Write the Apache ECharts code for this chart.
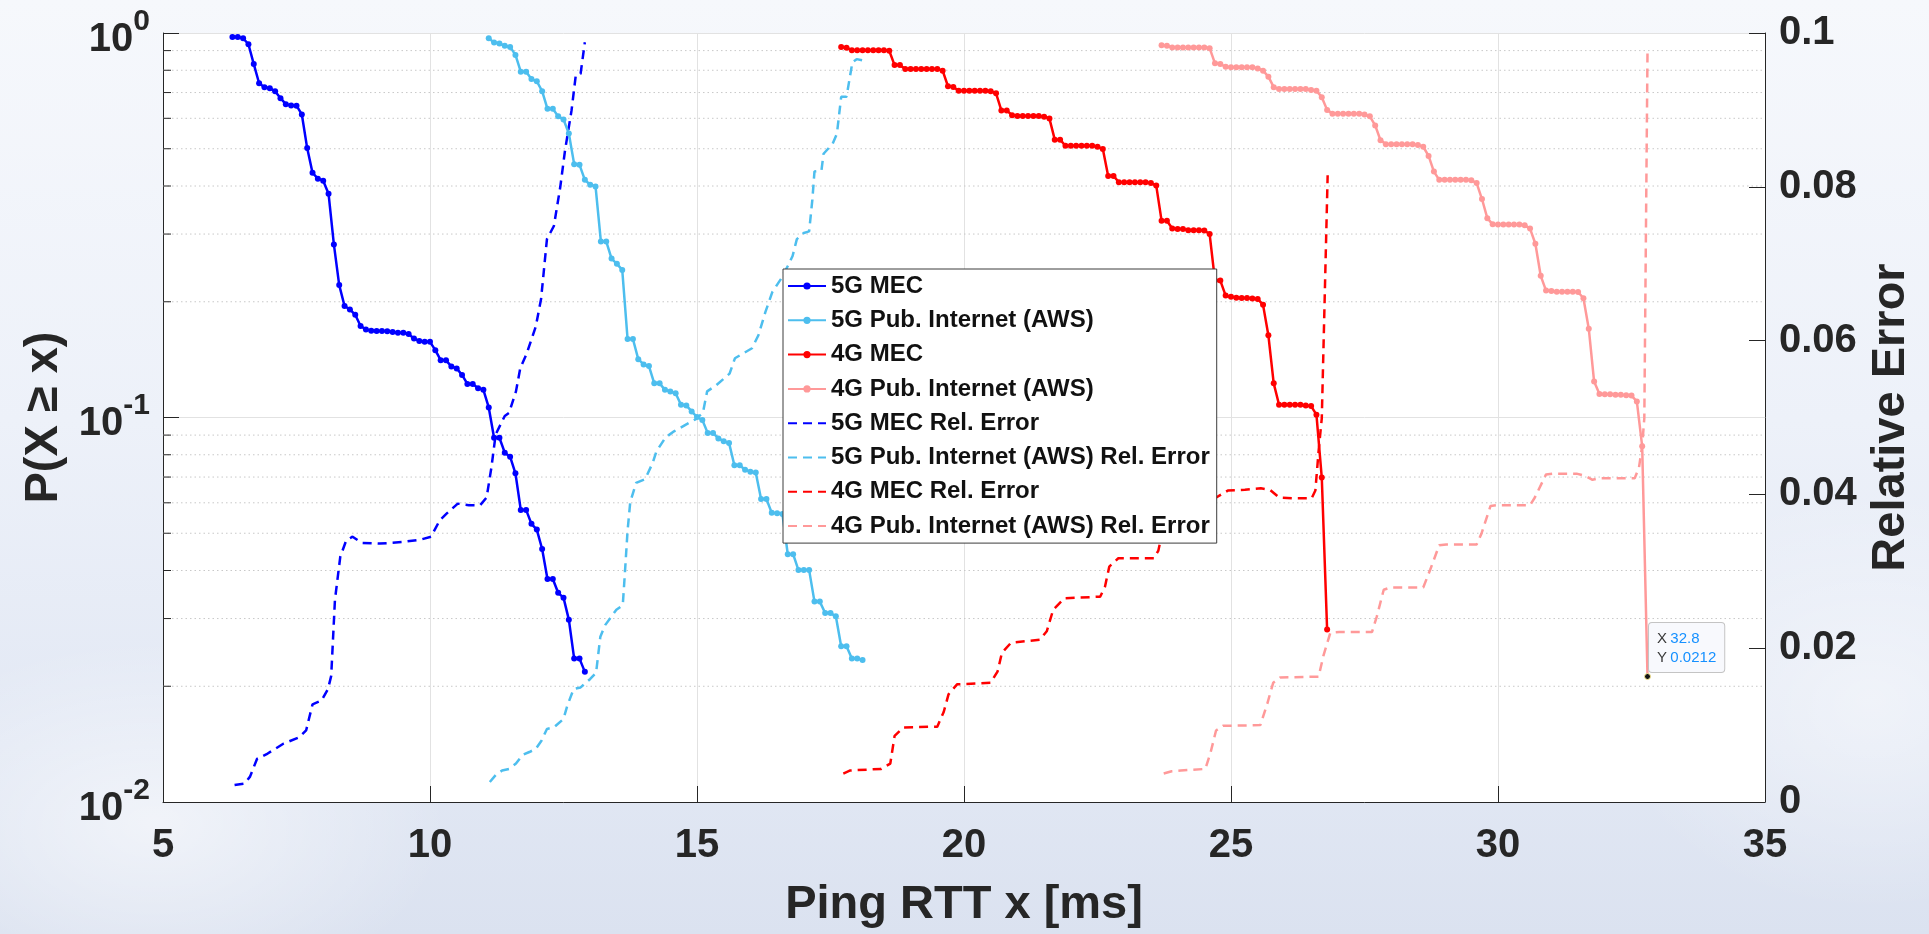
<!DOCTYPE html>
<html>
<head>
<meta charset="utf-8">
<script src="https://cdn.jsdelivr.net/npm/echarts@6.0.0/dist/echarts.min.js"></script>
<style>
html,body{margin:0;padding:0;width:1929px;height:934px;overflow:hidden;}
body{
  background:
    radial-gradient(ellipse 420px 260px at 8% 88%, rgba(255,255,255,0.55), rgba(255,255,255,0) 70%),
    radial-gradient(ellipse 380px 300px at 97% 75%, rgba(255,255,255,0.45), rgba(255,255,255,0) 70%),
    linear-gradient(180deg, #f6f8fc 0%, #edf1f9 45%, #e2e8f4 80%, #dbe2f0 100%);
}
#chart{width:1929px;height:934px;}
</style>
</head>
<body>
<div id="chart"></div>
<script>
// ---------------- data ----------------
const seriesNames = [
  '5G MEC', '5G Pub. Internet (AWS)', '4G MEC', '4G Pub. Internet (AWS)',
  '5G MEC Rel. Error', '5G Pub. Internet (AWS) Rel. Error', '4G MEC Rel. Error', '4G Pub. Internet (AWS) Rel. Error'
];

// 5G MEC CCDF
const mec5gX = [6.3,6.4,6.5,6.6,6.7,6.8,6.9,7.0,7.1,7.2,7.3,7.4,7.5,7.6,7.7,7.8,7.9,8.0,8.1,8.2,
  8.3,8.4,8.5,8.6,8.7,8.8,8.9,9.0,9.1,9.2,9.3,9.4,9.5,9.6,9.7,9.8,9.9,10.0,10.1,10.2,
  10.3,10.4,10.5,10.6,10.7,10.8,10.9,11.0,11.1,11.2,11.3,11.4,11.5,11.6,11.7,11.8,11.9,12.0,12.1,12.2,
  12.3,12.4,12.5,12.6,12.7,12.8,12.9];
const mec5gP = [0.976,0.976,0.969,0.935,0.830,0.740,0.723,0.718,0.706,0.677,
  0.653,0.648,0.647,0.614,0.502,0.433,0.418,0.413,0.382,0.282,
  0.221,0.195,0.191,0.185,0.173,0.1695,0.168,0.1678,0.1678,0.1675,
  0.1669,0.1662,0.1662,0.1649,0.1604,0.1582,0.1573,0.1573,0.1497,0.1410,
  0.1408,0.1358,0.1342,0.1290,0.1223,0.1223,0.1192,0.1180,0.1062,0.0886,
  0.0886,0.0810,0.0791,0.0716,0.0575,0.0575,0.0529,0.0511,0.0455,0.0380,
  0.0380,0.0350,0.0340,0.0298,0.0236,0.0236,0.0218];

// 5G Pub. Internet (AWS) CCDF
const pub5gX = [11.1,11.2,11.3,11.4,11.5,11.6,11.7,11.8,11.9,12.0,12.1,12.2,12.3,12.4,12.5,12.6,12.7,12.8,12.9,13.0,
  13.1,13.2,13.3,13.4,13.5,13.6,13.7,13.8,13.9,14.0,14.1,14.2,14.3,14.4,14.5,14.6,14.7,14.8,14.9,15.0,
  15.1,15.2,15.3,15.4,15.5,15.6,15.7,15.8,15.9,16.0,16.1,16.2,16.3,16.4,16.5,16.6,16.7,16.8,16.9,17.0,
  17.1,17.2,17.3,17.4,17.5,17.6,17.7,17.8,17.9,18.0,18.1];
const pub5gP = [0.969,0.944,0.939,0.926,0.920,0.877,0.793,0.793,0.759,0.749,
  0.706,0.635,0.635,0.607,0.596,0.548,0.456,0.454,0.415,0.403,
  0.399,0.287,0.287,0.259,0.251,0.242,0.160,0.160,0.1418,0.1374,
  0.1361,0.1227,0.1227,0.1180,0.1168,0.1156,0.1079,0.1075,0.1037,0.1003,
  0.0985,0.0912,0.0912,0.0882,0.0868,0.0859,0.0751,0.0751,0.0731,0.0723,
  0.0719,0.0614,0.0614,0.0565,0.0564,0.0561,0.0441,0.0441,0.0401,0.0401,
  0.0401,0.0332,0.0332,0.0310,0.0310,0.0304,0.0254,0.0254,0.0236,0.0236,
  0.0234];

// 4G MEC CCDF
const mec4gX = [17.7,17.8,17.9,18.0,18.1,18.2,18.3,18.4,18.5,18.6,18.7,18.8,18.9,19.0,19.1,19.2,19.3,19.4,19.5,19.6,
  19.7,19.8,19.9,20.0,20.1,20.2,20.3,20.4,20.5,20.6,20.7,20.8,20.9,21.0,21.1,21.2,21.3,21.4,21.5,21.6,
  21.7,21.8,21.9,22.0,22.1,22.2,22.3,22.4,22.5,22.6,22.7,22.8,22.9,23.0,23.1,23.2,23.3,23.4,23.5,23.6,
  23.7,23.8,23.9,24.0,24.1,24.2,24.3,24.4,24.5,24.6,24.7,24.8,24.9,25.0,25.1,25.2,25.3,25.4,25.5,25.6,
  25.7,25.8,25.9,26.0,26.1,26.2,26.3,26.4,26.5,26.6,26.7,26.8];
const mec4gP = [0.920,0.916,0.902,0.902,0.902,0.902,0.902,0.902,0.902,0.899,
  0.825,0.825,0.806,0.806,0.806,0.806,0.806,0.806,0.806,0.798,
  0.727,0.724,0.708,0.708,0.708,0.708,0.708,0.708,0.706,0.697,
  0.629,0.629,0.611,0.608,0.608,0.608,0.608,0.608,0.606,0.599,
  0.528,0.528,0.509,0.509,0.509,0.509,0.509,0.509,0.506,0.499,
  0.425,0.425,0.409,0.409,0.409,0.409,0.409,0.409,0.407,0.401,
  0.325,0.325,0.310,0.309,0.309,0.307,0.307,0.307,0.3065,0.300,
  0.227,0.227,0.2075,0.206,0.205,0.2046,0.2046,0.204,0.2034,0.1963,
  0.1636,0.1227,0.1079,0.1079,0.1079,0.1079,0.1079,0.1075,0.1071,0.1017,
  0.0698,0.0281];

// 4G Pub. Internet (AWS) CCDF
const pub4gX = [23.7,23.8,23.9,24.0,24.1,24.2,24.3,24.4,24.5,24.6,24.7,24.8,24.9,25.0,25.1,25.2,25.3,25.4,25.5,25.6,
  25.7,25.8,25.9,26.0,26.1,26.2,26.3,26.4,26.5,26.6,26.7,26.8,26.9,27.0,27.1,27.2,27.3,27.4,27.5,27.6,
  27.7,27.8,27.9,28.0,28.1,28.2,28.3,28.4,28.5,28.6,28.7,28.8,28.9,29.0,29.1,29.2,29.3,29.4,29.5,29.6,
  29.7,29.8,29.9,30.0,30.1,30.2,30.3,30.4,30.5,30.6,30.7,30.8,30.9,31.0,31.1,31.2,31.3,31.4,31.5,31.6,
  31.7,31.8,31.9,32.0,32.1,32.2,32.3,32.4,32.5,32.6,32.7,32.8];
const pub4gP = [0.929,0.926,0.917,0.917,0.917,0.917,0.917,0.917,0.917,0.913,
  0.834,0.830,0.817,0.814,0.814,0.814,0.814,0.814,0.809,0.798,
  0.770,0.723,0.715,0.715,0.715,0.715,0.715,0.715,0.711,0.708,
  0.681,0.631,0.617,0.617,0.617,0.617,0.617,0.617,0.614,0.607,
  0.575,0.526,0.514,0.514,0.514,0.514,0.514,0.514,0.511,0.506,
  0.479,0.436,0.415,0.415,0.415,0.415,0.415,0.415,0.414,0.407,
  0.370,0.330,0.318,0.3175,0.3175,0.3175,0.3175,0.3175,0.316,0.310,
  0.283,0.2336,0.2138,0.2134,0.2125,0.2125,0.2125,0.2125,0.212,0.2042,
  0.1702,0.1240,0.1151,0.1149,0.1149,0.1146,0.1146,0.1142,0.1140,0.1101,
  0.0842,0.0212];

// Relative errors (right axis): [x, error]
const err5gMec = [[6.34,0.0022],[6.53,0.0024],[6.63,0.0033],[6.76,0.0056],[6.96,0.0063],[7.26,0.0076],[7.55,0.0084],
  [7.68,0.0093],[7.80,0.0127],[7.97,0.0132],[8.09,0.0147],[8.15,0.0164],[8.22,0.0263],[8.32,0.0319],[8.43,0.0340],
  [8.55,0.0345],[8.72,0.0337],[9.06,0.0336],[9.47,0.0338],[9.81,0.0341],[10.02,0.0345],[10.18,0.0366],[10.31,0.0375],
  [10.52,0.0388],[10.73,0.0386],[10.94,0.0386],[11.06,0.0396],[11.15,0.0435],[11.23,0.0478],[11.40,0.0502],[11.48,0.0506],
  [11.61,0.0534],[11.69,0.0564],[11.81,0.0583],[11.98,0.0618],[12.08,0.0654],[12.19,0.0732],[12.32,0.0749],[12.44,0.0800],
  [12.53,0.0848],[12.65,0.0899],[12.73,0.0945],[12.82,0.0947],[12.90,0.0988]];
const err5gPub = [[11.12,0.0026],[11.23,0.0035],[11.35,0.0041],[11.48,0.0043],[11.61,0.0050],[11.73,0.0061],[11.86,0.0065],
  [11.98,0.0069],[12.09,0.0080],[12.19,0.0095],[12.32,0.0097],[12.50,0.0108],[12.57,0.0125],[12.69,0.0147],[12.82,0.0149],
  [13.00,0.0160],[13.11,0.0168],[13.19,0.0215],[13.28,0.0230],[13.49,0.0250],[13.61,0.0256],[13.65,0.0298],[13.70,0.0353],
  [13.75,0.0390],[13.86,0.0415],[14.03,0.0420],[14.17,0.0441],[14.24,0.0456],[14.41,0.0474],[14.57,0.0482],[14.80,0.0491],
  [14.98,0.0498],[15.11,0.0506],[15.19,0.0534],[15.36,0.0542],[15.61,0.0557],[15.71,0.0577],[16.03,0.0590],[16.15,0.0607],
  [16.28,0.0637],[16.41,0.0663],[16.57,0.0680],[16.70,0.0697],[16.79,0.0710],[16.87,0.0732],[17.00,0.0740],[17.10,0.0742],
  [17.16,0.0783],[17.20,0.0820],[17.33,0.0821],[17.37,0.0843],[17.54,0.0856],[17.62,0.0869],[17.70,0.0917],[17.80,0.0917],
  [17.91,0.0962],[17.99,0.0966],[18.12,0.0964]];
const err4gMec = [[17.74,0.0037],[17.87,0.0041],[18.45,0.0043],[18.62,0.0050],[18.70,0.0086],[18.87,0.0097],[19.50,0.0098],
  [19.62,0.0117],[19.71,0.0140],[19.87,0.0153],[20.50,0.0155],[20.63,0.0170],[20.71,0.0194],[20.88,0.0207],[21.42,0.0211],
  [21.55,0.0222],[21.67,0.0250],[21.88,0.0265],[22.55,0.0267],[22.64,0.0280],[22.72,0.0306],[22.89,0.0317],[23.56,0.0317],
  [23.64,0.0327],[23.72,0.0353],[23.89,0.0362],[24.48,0.0366],[24.58,0.0375],[24.70,0.0395],[24.94,0.0405],[25.26,0.0406],
  [25.56,0.0408],[25.73,0.0406],[25.90,0.0396],[26.16,0.0395],[26.51,0.0395],[26.58,0.0405],[26.64,0.0456],[26.70,0.0499],
  [26.81,0.0815]];
const err4gPub = [[23.74,0.0037],[23.89,0.0040],[24.06,0.0041],[24.52,0.0043],[24.62,0.0065],[24.72,0.0093],[24.85,0.0099],
  [25.55,0.0100],[25.68,0.0128],[25.79,0.0155],[25.92,0.0162],[26.64,0.0163],[26.73,0.0190],[26.86,0.0220],[27.03,0.0221],
  [27.64,0.0221],[27.73,0.0241],[27.86,0.0276],[27.99,0.0279],[28.60,0.0279],[28.73,0.0302],[28.90,0.0334],[29.03,0.0335],
  [29.60,0.0335],[29.69,0.0349],[29.86,0.0385],[29.99,0.0386],[30.60,0.0386],[30.69,0.0396],[30.90,0.0426],[31.03,0.0427],
  [31.47,0.0427],[31.64,0.0424],[31.77,0.0419],[31.90,0.0421],[32.56,0.0421],[32.64,0.0435],[32.70,0.0463],[32.74,0.0499],
  [32.80,0.0978]];

// Axes
const xMin = 5, xMax = 35, xStep = 5;
const pMin = 0.01, pMax = 1;
const errMin = 0, errMax = 0.1, errStep = 0.02;
const minorTicks = [0.02,0.03,0.04,0.05,0.06,0.07,0.08,0.09,0.2,0.3,0.4,0.5,0.6,0.7,0.8,0.9];

// Data tip
const dtX = 32.8, dtY = 0.0212;

// ---------------- chart ----------------
const FF = "'Liberation Sans', Arial, Helvetica, sans-serif";
const INK = '#262626';
const colors = ['#0000ff', '#4dbeee', '#ff0000', '#ff9999'];

const zip = (xs, ys) => xs.map((x, i) => [x, ys[i]]);

function ccdf(name, color, xs, ys, extra) {
  return Object.assign({
    name, type: 'line', xAxisIndex: 0, yAxisIndex: 0,
    data: zip(xs, ys),
    symbol: 'circle', symbolSize: 6, showSymbol: true,
    lineStyle: { color, width: 2.5 },
    itemStyle: { color },
    z: 3, silent: true, animation: false
  }, extra || {});
}
function relErr(name, color, pts) {
  return {
    name, type: 'line', xAxisIndex: 0, yAxisIndex: 1,
    data: pts, symbol: 'none', showSymbol: false,
    lineStyle: { color, width: 2.5, type: [9, 6] },
    itemStyle: { color },
    z: 2, silent: true, animation: false
  };
}

const chart = echarts.init(document.getElementById('chart'), null, { renderer: 'canvas' });

const legendData = seriesNames.map((n, i) => i < 4 ? { name: n } : { name: n, itemStyle: { opacity: 0 } });

const option = {
  animation: false,
  backgroundColor: 'transparent',
  grid: { left: 163, right: 164, top: 33, bottom: 127, show: true, backgroundColor: '#ffffff', borderWidth: 0 },
  legend: {
    orient: 'vertical', left: 783, top: 269,
    data: legendData,
    itemWidth: 38, itemHeight: 9, itemGap: 10.3,
    backgroundColor: '#ffffff', borderColor: '#3c3c3c', borderWidth: 1, borderRadius: 0,
    padding: [5, 7, 5, 4],
    selectedMode: false,
    textStyle: { fontSize: 24, fontWeight: 'bold', color: '#111111', fontFamily: FF, lineHeight: 24 }
  },
  xAxis: {
    type: 'value', min: xMin, max: xMax, interval: xStep,
    name: 'Ping RTT x [ms]', nameLocation: 'middle', nameGap: 80,
    nameTextStyle: { fontSize: 47, fontWeight: 'bold', color: INK, fontFamily: FF },
    axisLine: { show: true, lineStyle: { color: INK, width: 1 } },
    axisTick: { show: true, inside: true, length: 16, lineStyle: { color: INK } },
    axisLabel: { fontSize: 40, fontWeight: 'bold', color: INK, fontFamily: FF, margin: 24 },
    splitLine: { show: true, lineStyle: { color: '#e2e2e2', width: 1 } }
  },
  yAxis: [
    {
      type: 'log', logBase: 10, min: pMin, max: pMax, position: 'left',
      name: 'P(X \u2265 x)', nameLocation: 'middle', nameGap: 95,
      nameTextStyle: { fontSize: 47, fontWeight: 'bold', color: INK, fontFamily: FF },
      axisLine: { show: true, lineStyle: { color: INK, width: 1 } },
      axisTick: { show: true, inside: true, length: 16, lineStyle: { color: INK } },
      axisLabel: {
        margin: 13, color: INK, fontFamily: FF, fontSize: 40, fontWeight: 'bold',
        formatter: v => '{b|10}{s|' + Math.round(Math.log10(v)) + '}',
        rich: {
          b: { fontSize: 40, fontWeight: 'bold', color: INK, fontFamily: FF, verticalAlign: 'bottom' },
          s: { fontSize: 30, fontWeight: 'bold', color: INK, fontFamily: FF, verticalAlign: 'top', padding: [0, 0, 23, 0] }
        }
      },
      splitLine: { show: true, lineStyle: { color: '#e2e2e2', width: 1 } }
    },
    {
      type: 'value', min: errMin, max: errMax, interval: errStep, position: 'right',
      name: 'Relative Error', nameLocation: 'middle', nameGap: 95,
      nameTextStyle: { fontSize: 47, fontWeight: 'bold', color: INK, fontFamily: FF },
      axisLine: { show: true, lineStyle: { color: INK, width: 1 } },
      axisTick: { show: true, inside: true, length: 16, lineStyle: { color: INK } },
      axisLabel: { fontSize: 40, fontWeight: 'bold', color: INK, fontFamily: FF, margin: 14 },
      splitLine: { show: false }
    }
  ],
  series: [
    {
      type: 'custom', name: 'minorGrid', xAxisIndex: 0, yAxisIndex: 0, silent: true, z: 1,
      data: minorTicks.map(v => [xMin, v]),
      renderItem: (params, api) => {
        const y = api.value(1);
        const a = api.coord([xMin, y]);
        const b = api.coord([xMax, y]);
        return {
          type: 'group',
          children: [
            { type: 'line', shape: { x1: a[0], y1: a[1], x2: b[0], y2: b[1] },
              style: { stroke: '#c8c8c8', lineWidth: 1, lineDash: [1.5, 3] } },
            { type: 'line', shape: { x1: a[0], y1: a[1], x2: a[0] + 8, y2: a[1] },
              style: { stroke: INK, lineWidth: 1 } }
          ]
        };
      }
    },
    ccdf(seriesNames[0], colors[0], mec5gX, mec5gP),
    ccdf(seriesNames[1], colors[1], pub5gX, pub5gP),
    ccdf(seriesNames[2], colors[2], mec4gX, mec4gP),
    ccdf(seriesNames[3], colors[3], pub4gX, pub4gP, {
      markPoint: {
        silent: true, animation: false,
        symbol: 'circle', symbolSize: 6,
        itemStyle: { color: '#141414', borderColor: '#fff7a0', borderWidth: 1 },
        label: {
          show: true, position: [5, -50],
          formatter: '{k|X} {v|' + dtX + '}\n{k|Y} {v|' + dtY + '}',
          backgroundColor: '#f8f9fd', borderColor: '#c4c4c4', borderWidth: 1, borderRadius: 3,
          padding: [6, 8, 5, 8], lineHeight: 19,
          rich: {
            k: { color: '#3a3a3a', fontSize: 15, fontFamily: FF, lineHeight: 19 },
            v: { color: '#1590ff', fontSize: 15, fontFamily: FF, lineHeight: 19 }
          }
        },
        data: [{ coord: [dtX, dtY] }]
      }
    }),
    relErr(seriesNames[4], colors[0], err5gMec),
    relErr(seriesNames[5], colors[1], err5gPub),
    relErr(seriesNames[6], colors[2], err4gMec),
    relErr(seriesNames[7], colors[3], err4gPub)
  ]
};

chart.setOption(option);
</script>
</body>
</html>
